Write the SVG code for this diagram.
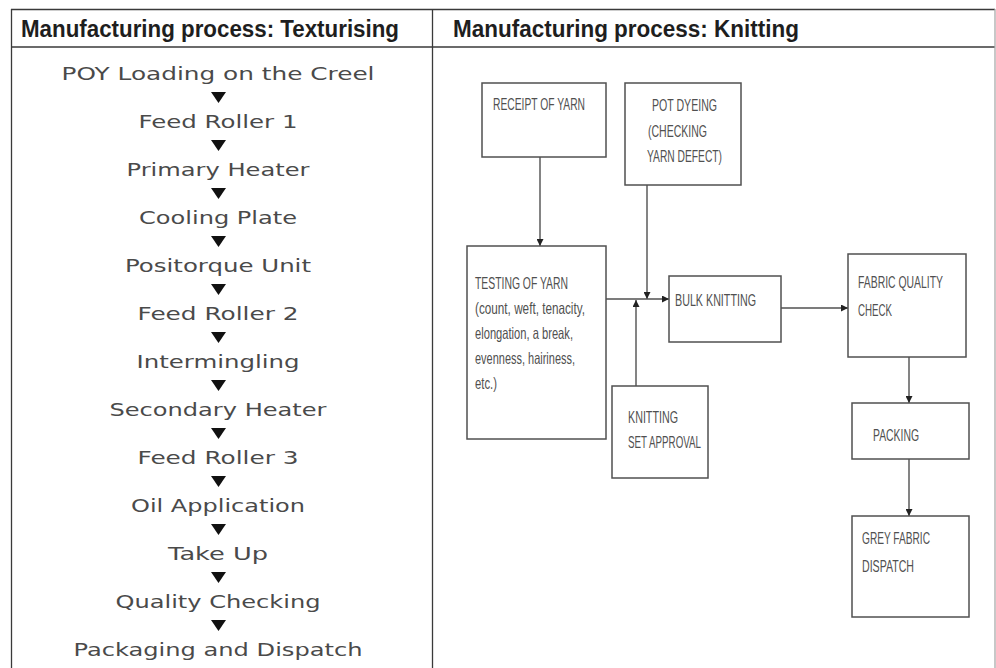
<svg xmlns="http://www.w3.org/2000/svg" width="996" height="668" viewBox="0 0 996 668">
<style>
.hdr{font-family:"Liberation Sans",Arial,sans-serif;font-weight:bold;font-size:23.5px;fill:#1e1e1e}
.step{font-family:"DejaVu Sans",Verdana,sans-serif;font-size:17.5px;fill:#4a4a4a;text-anchor:middle}
.tri{fill:#111}
.box{fill:#fff;stroke:#505050;stroke-width:1.5}
.lbl{font-family:"Liberation Sans",Arial,sans-serif;font-size:16.5px;fill:#505050}
.con{stroke:#505050;stroke-width:1.4;fill:none}
.grid{stroke:#3a3a3a;stroke-width:1.3;fill:none}
</style>
<defs>
<marker id="ah" viewBox="0 0 10 10" refX="10" refY="5" markerWidth="7" markerHeight="7" markerUnits="userSpaceOnUse" orient="auto"><path d="M0,0 L10,5 L0,10 z" fill="#222"/></marker>
</defs>
<rect x="0" y="0" width="996" height="668" fill="#fff"/>
<g id="table">
<line class="grid" x1="11" y1="9.5" x2="995" y2="9.5"/>
<line class="grid" x1="11" y1="47" x2="995" y2="47"/>
<line class="grid" x1="11.5" y1="9" x2="11.5" y2="668"/>
<line class="grid" x1="432.5" y1="9" x2="432.5" y2="668"/>
<line x1="995" y1="9" x2="995" y2="668" stroke="#aaa" stroke-width="1.3"/>
<text class="hdr" x="21" y="37" textLength="378" lengthAdjust="spacingAndGlyphs">Manufacturing process: Texturising</text>
<text class="hdr" x="453" y="37" textLength="346" lengthAdjust="spacingAndGlyphs">Manufacturing process: Knitting</text>
</g>
<g id="texturising">
<text class="step" x="218" y="80" textLength="313" lengthAdjust="spacingAndGlyphs">POY Loading on the Creel</text>
<text class="step" x="218" y="128" textLength="159" lengthAdjust="spacingAndGlyphs">Feed Roller 1</text>
<text class="step" x="218" y="176" textLength="183" lengthAdjust="spacingAndGlyphs">Primary Heater</text>
<text class="step" x="218" y="224" textLength="158" lengthAdjust="spacingAndGlyphs">Cooling Plate</text>
<text class="step" x="218" y="272" textLength="186" lengthAdjust="spacingAndGlyphs">Positorque Unit</text>
<text class="step" x="218" y="320" textLength="161" lengthAdjust="spacingAndGlyphs">Feed Roller 2</text>
<text class="step" x="218" y="368" textLength="163" lengthAdjust="spacingAndGlyphs">Intermingling</text>
<text class="step" x="218" y="416" textLength="217" lengthAdjust="spacingAndGlyphs">Secondary Heater</text>
<text class="step" x="218" y="464" textLength="161" lengthAdjust="spacingAndGlyphs">Feed Roller 3</text>
<text class="step" x="218" y="512" textLength="174" lengthAdjust="spacingAndGlyphs">Oil Application</text>
<text class="step" x="218" y="560" textLength="100" lengthAdjust="spacingAndGlyphs">Take Up</text>
<text class="step" x="218" y="608" textLength="205" lengthAdjust="spacingAndGlyphs">Quality Checking</text>
<text class="step" x="218" y="656" textLength="289" lengthAdjust="spacingAndGlyphs">Packaging and Dispatch</text>
<g id="tris" class="tri">
<path d="M211,92 L226,92 L218.5,103 z"/>
<path d="M211,140 L226,140 L218.5,151 z"/>
<path d="M211,188 L226,188 L218.5,199 z"/>
<path d="M211,236 L226,236 L218.5,247 z"/>
<path d="M211,284 L226,284 L218.5,295 z"/>
<path d="M211,332 L226,332 L218.5,343 z"/>
<path d="M211,380 L226,380 L218.5,391 z"/>
<path d="M211,428 L226,428 L218.5,439 z"/>
<path d="M211,476 L226,476 L218.5,487 z"/>
<path d="M211,524 L226,524 L218.5,535 z"/>
<path d="M211,572 L226,572 L218.5,583 z"/>
<path d="M211,620 L226,620 L218.5,631 z"/>
</g>
</g>
<g id="connectors">
<line class="con" x1="540" y1="157" x2="540" y2="246" marker-end="url(#ah)"/>
<line class="con" x1="647" y1="185" x2="647" y2="299" marker-end="url(#ah)"/>
<line class="con" x1="606" y1="299" x2="669" y2="299" marker-end="url(#ah)"/>
<line class="con" x1="636" y1="386" x2="636" y2="300" marker-end="url(#ah)"/>
<line class="con" x1="781" y1="308" x2="848" y2="308" marker-end="url(#ah)"/>
<line class="con" x1="909" y1="357" x2="909" y2="403" marker-end="url(#ah)"/>
<line class="con" x1="909" y1="459" x2="909" y2="516" marker-end="url(#ah)"/>
</g>
<g id="receipt">
<rect class="box" x="482" y="83" width="124" height="74"/>
<text class="lbl" x="493" y="110" textLength="92" lengthAdjust="spacingAndGlyphs">RECEIPT OF YARN</text>
</g>
<g id="potdyeing">
<rect class="box" x="625" y="83" width="116" height="102"/>
<text class="lbl" x="652" y="111" textLength="65" lengthAdjust="spacingAndGlyphs">POT DYEING</text>
<text class="lbl" x="648" y="137" textLength="59" lengthAdjust="spacingAndGlyphs">(CHECKING</text>
<text class="lbl" x="647" y="162" textLength="75" lengthAdjust="spacingAndGlyphs">YARN DEFECT)</text>
</g>
<g id="testing">
<rect class="box" x="467" y="246" width="139" height="193"/>
<text class="lbl" x="475" y="289" textLength="93" lengthAdjust="spacingAndGlyphs">TESTING OF YARN</text>
<text class="lbl" x="475" y="314" textLength="110" lengthAdjust="spacingAndGlyphs">(count, weft, tenacity,</text>
<text class="lbl" x="475" y="339" textLength="98" lengthAdjust="spacingAndGlyphs">elongation, a break,</text>
<text class="lbl" x="475" y="364" textLength="100" lengthAdjust="spacingAndGlyphs">evenness, hairiness,</text>
<text class="lbl" x="475" y="389" textLength="22" lengthAdjust="spacingAndGlyphs">etc.)</text>
</g>
<g id="knittingset">
<rect class="box" x="612" y="386" width="96" height="92"/>
<text class="lbl" x="628" y="423" textLength="50" lengthAdjust="spacingAndGlyphs">KNITTING</text>
<text class="lbl" x="628" y="448" textLength="73" lengthAdjust="spacingAndGlyphs">SET APPROVAL</text>
</g>
<g id="bulk">
<rect class="box" x="669" y="276" width="112" height="66"/>
<text class="lbl" x="675" y="306" textLength="81" lengthAdjust="spacingAndGlyphs">BULK KNITTING</text>
</g>
<g id="fabriccheck">
<rect class="box" x="848" y="254" width="118" height="103"/>
<text class="lbl" x="858" y="288" textLength="85" lengthAdjust="spacingAndGlyphs">FABRIC QUALITY</text>
<text class="lbl" x="858" y="316" textLength="34" lengthAdjust="spacingAndGlyphs">CHECK</text>
</g>
<g id="packing">
<rect class="box" x="852" y="403" width="117" height="56"/>
<text class="lbl" x="873" y="441" textLength="46" lengthAdjust="spacingAndGlyphs">PACKING</text>
</g>
<g id="dispatch">
<rect class="box" x="852" y="516" width="117" height="101"/>
<text class="lbl" x="862" y="544" textLength="68" lengthAdjust="spacingAndGlyphs">GREY FABRIC</text>
<text class="lbl" x="862" y="572" textLength="52" lengthAdjust="spacingAndGlyphs">DISPATCH</text>
</g>
</svg>
